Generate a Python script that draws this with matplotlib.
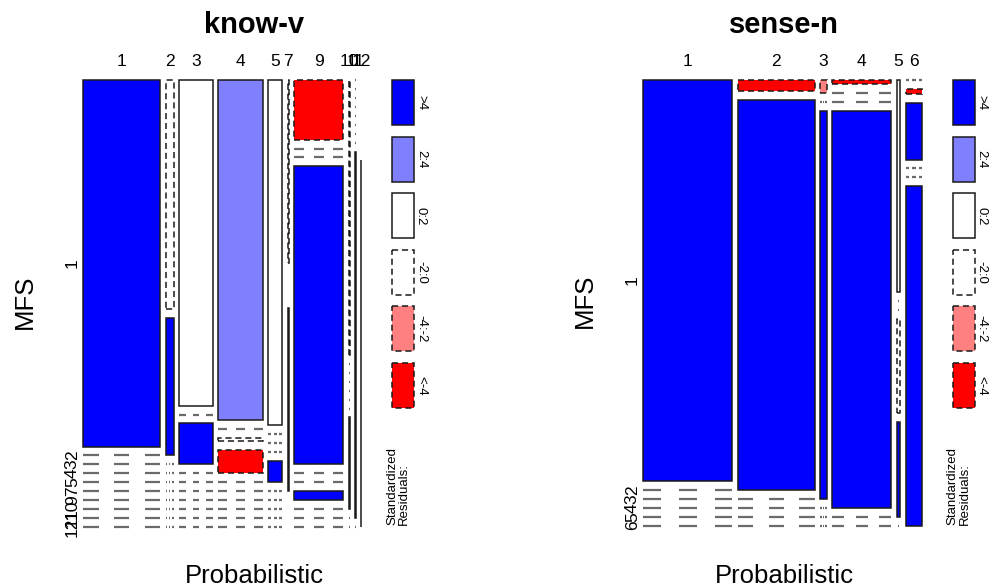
import numpy as np
import matplotlib.pyplot as plt
from matplotlib.patches import Rectangle

plt.rcParams['font.family'] = ['Liberation Sans', 'DejaVu Sans']

################## contingency tables (rows = MFS, columns = Probabilistic) ##########

know_prob = ['1', '2', '3', '4', '5', '7', '9', '10', '11', '12']
know_mfs = ['1', '2', '3', '4', '5', '7', '9', '10', '11', '12']
know_counts = np.array([
    [386, 25, 151, 207, 65, 3, 40, 3, 0, 0],
    [0, 15, 0, 0, 0, 0, 0, 0, 0, 0],
    [0, 0, 19, 2, 0, 0, 0, 0, 0, 0],
    [0, 0, 0, 14, 0, 0, 200, 0, 0, 0],
    [0, 0, 0, 0, 4, 0, 0, 0, 0, 0],
    [0, 0, 0, 0, 0, 3, 0, 0, 0, 0],
    [0, 0, 0, 0, 0, 0, 6, 0, 0, 0],
    [0, 0, 0, 0, 0, 0, 0, 1, 0, 0],
    [0, 0, 0, 0, 0, 0, 0, 0, 2, 0],
    [0, 0, 0, 0, 0, 0, 0, 0, 0, 2],
])

sense_prob = ['1', '2', '3', '4', '5', '6']
sense_mfs = ['1', '2', '3', '4', '5', '6']
sense_counts = np.array([
    [424, 10, 1, 3, 9, 0],
    [0, 356, 0, 0, 0, 1],
    [0, 0, 29, 0, 0, 11],
    [0, 0, 0, 278, 4, 0],
    [0, 0, 0, 0, 4, 0],
    [0, 0, 0, 0, 0, 66],
])

# shading classes for the standardized residuals
res_breaks = [-4, -2, 0, 2, 4]
res_labels = ['<-4', '-4:-2', '-2:0', '0:2', '2:4', '>4']
res_colors = ['#FF0000', '#FF8080', '#FFFFFF', '#FFFFFF', '#8080FF', '#0000FF']

W, H = 990, 588
fig = plt.figure(figsize=(W / 100, H / 100), dpi=100)
bg = fig.add_axes([0, 0, 1, 1])
bg.set_xlim(0, W)
bg.set_ylim(H, 0)
bg.axis('off')

dash = (0, (4, 2.5))
edge = '#1a1a1a'


def mosaic(counts, prob, mfs, box, title, cx):
    x0, y0, x1, y1 = box
    ax = fig.add_axes([x0 / W, 1 - y1 / H, (x1 - x0) / W, (y1 - y0) / H])
    ax.set_xlim(0, 1)
    ax.set_ylim(0, 1)
    ax.axis('off')

    n_row, n_col = counts.shape
    total = counts.sum()
    expected = np.outer(counts.sum(1), counts.sum(0)) / total
    resid = (counts - expected) / np.sqrt(expected)
    shade = np.digitize(resid, res_breaks)

    gap = 0.02
    widths = (1 - gap * (n_col - 1)) * counts.sum(0) / total
    lefts = np.concatenate([[0], np.cumsum(widths + gap)[:-1]])

    first_col_mid = None
    for j in range(n_col):
        heights = (1 - gap * (n_row - 1)) * counts[:, j] / counts[:, j].sum()
        tops = 1 - np.concatenate([[0], np.cumsum(heights + gap)[:-1]])
        if j == 0:
            first_col_mid = tops - heights / 2
        for i in range(n_row):
            if counts[i, j] == 0:
                w = widths[j]
                for k in (0, 0.4, 0.8):
                    ax.plot([lefts[j] + k * w, lefts[j] + (k + 0.2) * w],
                            [tops[i], tops[i]], color='0.42', lw=1.6,
                            solid_capstyle='butt', clip_on=False)
                continue
            ls = '-' if resid[i, j] >= 0 else dash
            ax.add_patch(Rectangle((lefts[j], tops[i] - heights[i]), widths[j], heights[i],
                                   facecolor=res_colors[shade[i, j]], edgecolor=edge,
                                   lw=1.1, linestyle=ls, clip_on=False))

    # level labels
    for j in range(n_col):
        ax.text(lefts[j] + widths[j] / 2, 1 + 18 / (y1 - y0), prob[j],
                ha='center', va='center', fontsize=12.5)
    for i in range(n_row):
        ax.text(-11 / (x1 - x0), first_col_mid[i], mfs[i], rotation=90,
                ha='center', va='center', fontsize=12.5)

    bg.text(cx, 25, title, ha='center', va='center', fontsize=21, fontweight='bold')
    bg.text(cx, 583, 'Probabilistic', ha='center', va='baseline', fontsize=18.5)
    bg.text(x0 - 58, (y0 + y1) / 2 - 2, 'MFS', rotation=90, ha='center', va='center',
            fontsize=18.5)

    # residual legend
    lx = x1 + 30.5
    for k in range(6):
        idx = 5 - k
        top = 80 + k * 56.6
        ls = '-' if idx >= 3 else dash
        bg.add_patch(Rectangle((lx, top), 22, 45, facecolor=res_colors[idx],
                               edgecolor=edge, lw=1.1, linestyle=ls))
        bg.text(lx + 29, top + 22.5, res_labels[idx], rotation=270,
                ha='center', va='center', fontsize=9.5)
    bg.text(lx + 6, 525, 'Standardized\nResiduals:', rotation=90,
            ha='left', va='center', fontsize=9.5, linespacing=1.0,
            rotation_mode='anchor')


mosaic(know_counts, know_prob, know_mfs, (83.3, 80, 361.5, 527), 'know-v', 254)
mosaic(sense_counts, sense_prob, sense_mfs, (643.3, 80, 922.3, 525.6), 'sense-n', 784)

fig.savefig('out.png', dpi=100)
